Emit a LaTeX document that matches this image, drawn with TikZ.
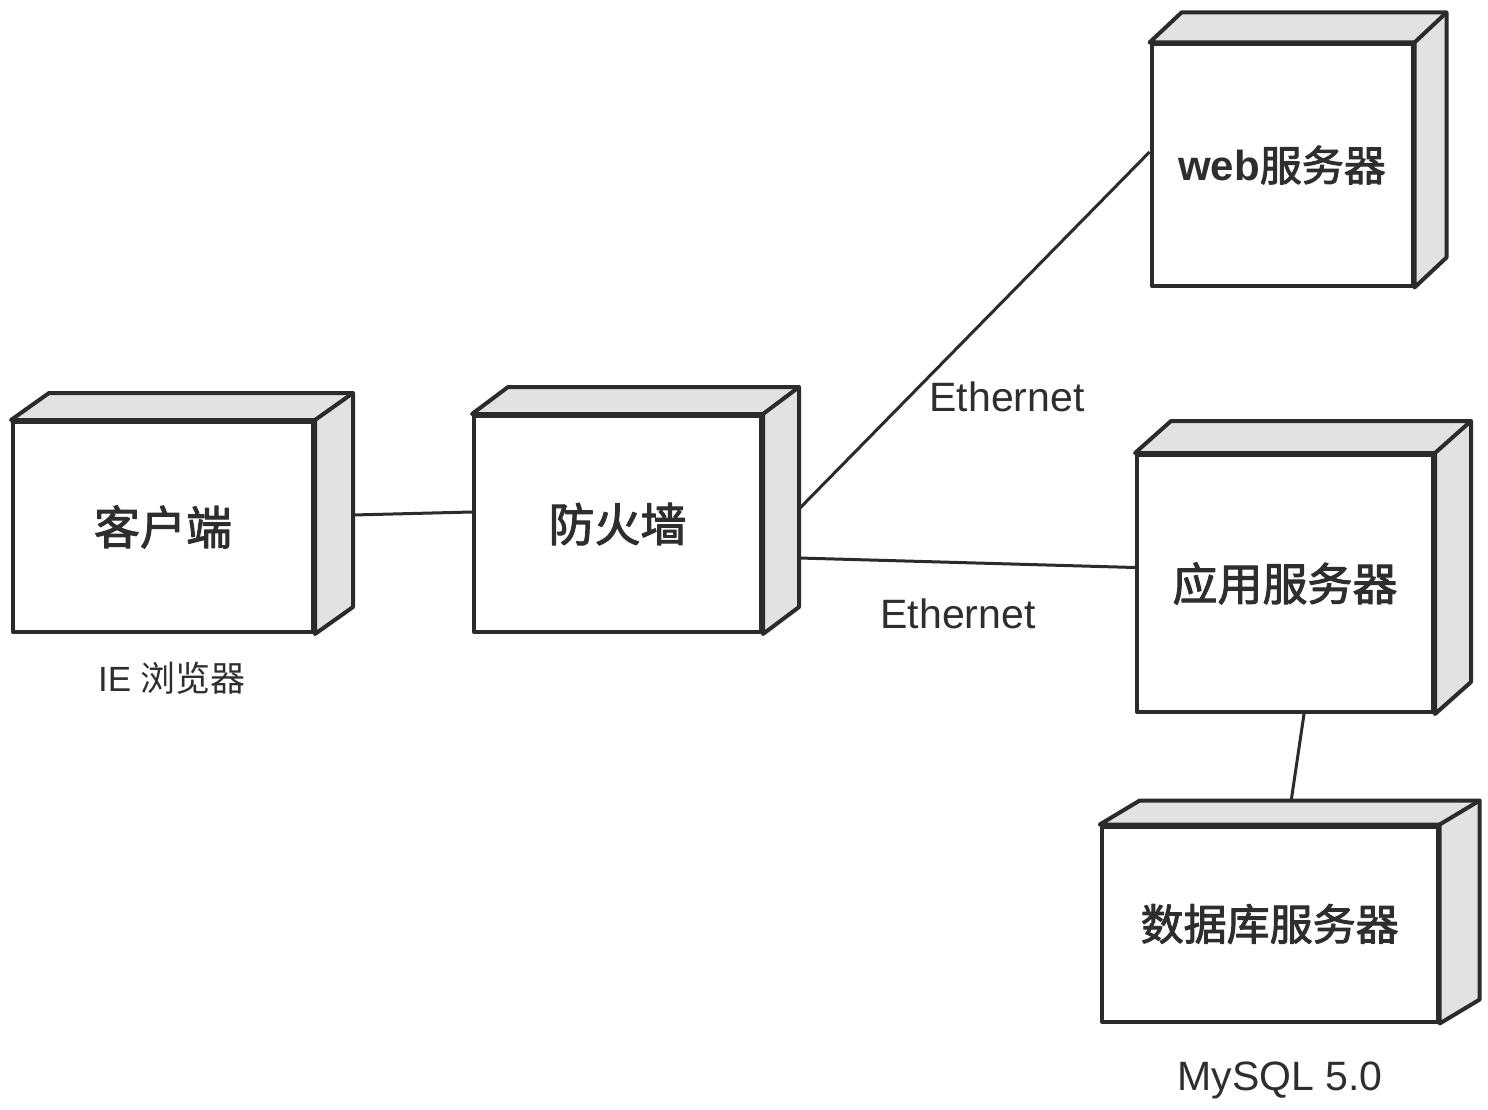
\documentclass[tikz,border=0pt]{standalone}
\usepackage{fontspec}
\setmainfont{Liberation Sans}
\newfontfamily\cjk{Noto Sans CJK SC}
\newfontfamily\cjkm{Noto Sans CJK SC}[UprightFeatures={FakeBold=2.2}]
\newcommand\cjkt[1]{{\cjkm\mdseries #1}}
\definecolor{ln}{HTML}{2B2B2B}
\definecolor{fc}{HTML}{E1E2E3}
\definecolor{tx}{HTML}{2E2E2E}
\begin{document}
\begin{tikzpicture}[x=1pt,y=-1pt,
  front/.style={draw=ln,line width=4pt,fill=white,inner sep=0pt,line join=round,text=tx,font=\fontsize{46}{54}\selectfont\bfseries},
  face/.style={draw=ln,fill=fc,line width=4pt,line join=round},
  link/.style={draw=ln,line width=3pt},
  lbl/.style={text=tx,inner sep=0pt,font=\fontsize{41}{48}\selectfont}]
\useasboundingbox[fill=white] (0,0) rectangle (1488,1110);
\node[front,minimum width=300pt,minimum height=210pt] (client) at (163,527) {\cjkt{客户端}};
\node[front,minimum width=287pt,minimum height=216pt] (fw) at (617.5,524) {\cjkt{防火墙}};
\node[front,minimum width=261pt,minimum height=241pt,font=\fontsize{42}{50}\selectfont\bfseries] (web) at (1282,165) {web\cjkt{服务器}};
\node[front,minimum width=296pt,minimum height=257pt,font=\fontsize{45}{54}\selectfont\bfseries] (app) at (1285,583.5) {\cjkt{应用服务器}};
\node[front,minimum width=336pt,minimum height=195pt,font=\fontsize{43}{52}\selectfont\bfseries] (db) at (1269.7,924) {\cjkt{数据库服务器}};
\foreach \n/\dx/\dy in {client/38/27, fw/36/27, web/32/30, app/36/32, db/40/24}{
  \draw[face] (\n.north west) -- ++(\dx,-\dy) -- ([shift={(\dx,-\dy)}]\n.north east)
     -- ([shift={(\dx,-\dy)}]\n.south east) -- (\n.south east) -- (\n.north east) -- cycle;
  \draw[face] (\n.north east) -- ++(\dx,-\dy);
}
\draw[link] ([shift={(38,-12)}]client.east) -- ([yshift=12pt]fw.west);
\draw[link] ([shift={(36,-15)}]fw.east) -- ([shift={(0,-13)}]web.west);
\draw[link] ([shift={(36,34)}]fw.east) -- ([shift={(0,-16)}]app.west);
\draw[link] ([shift={(19,0)}]app.south) -- ([shift={(21.5,-24)}]db.north);
\node[lbl] (eth1) at (1007,397) {Ethernet};
\node[lbl] (eth2) at (958,614) {Ethernet};
\node[lbl,font=\fontsize{35}{42}\selectfont] (ie) at (172,678) {IE {\cjk 浏览器}};
\node[lbl] (mysql) at (1280,1080) {MySQL 5.0};
\end{tikzpicture}
\end{document}
